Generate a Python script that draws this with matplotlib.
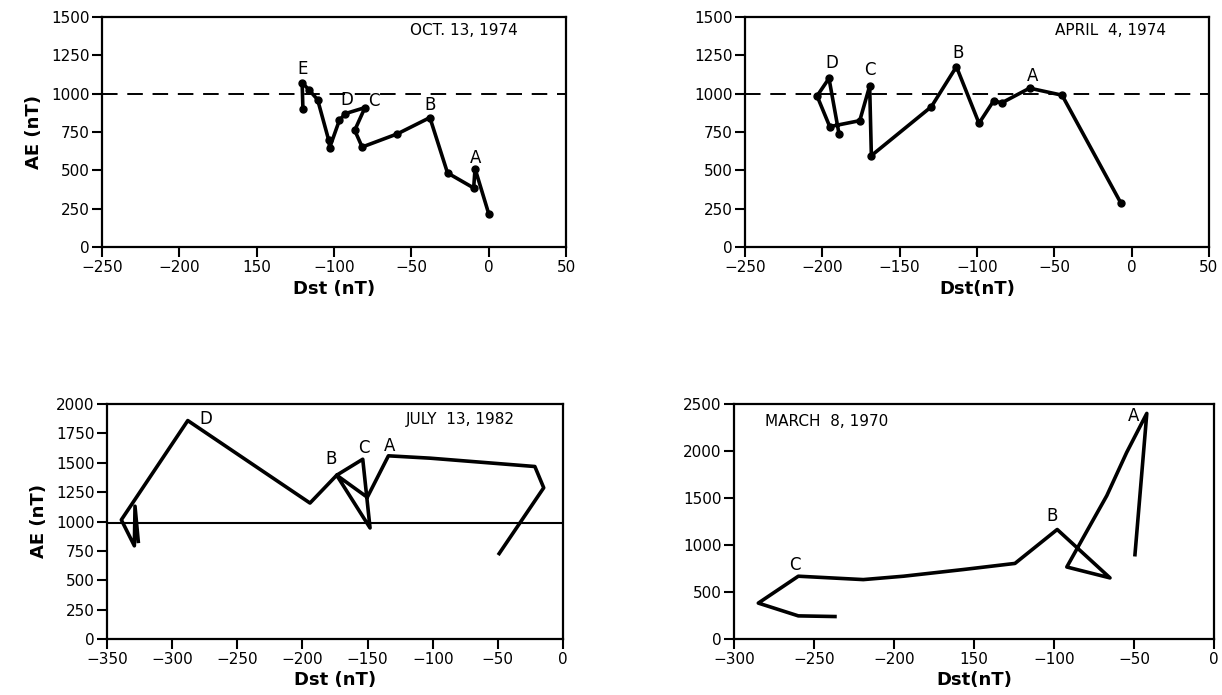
import matplotlib
matplotlib.use("Agg")
import matplotlib.pyplot as plt

# Oct 13, 1974
oct_dst = [0, -8.8, -9.7, -26.6, -38, -59, -81.8, -86.6, -80, -92.6, -96.5, -102.8, -103.4, -110.6, -116.4, -120.6, -120.1]
oct_ae = [218, 511, 385, 483, 844, 738, 652, 761, 909, 870, 827, 648, 696, 961, 1027, 1072, 903]
oct_lbl = ["A", "B", "C", "D", "E"]
oct_lbl_x = [-8.6, -38, -74, -91.5, -120.6]
oct_lbl_y = [583, 925, 952, 961, 1164]

# April 4, 1974
apr_dst = [-7, -45, -66, -84, -89.2, -98.7, -113.3, -129.5, -168.3, -169.4, -175.8, -195.2, -203.4, -195.7, -189.2]
apr_ae = [287, 990, 1036, 940, 954, 807, 1176, 915, 596, 1050, 824, 785, 985, 1100, 737]
apr_lbl = ["A", "B", "C", "D"]
apr_lbl_x = [-64, -112, -169, -194]
apr_lbl_y = [1116, 1263, 1155, 1202]

# July 13, 1982
jul_dst = [-49, -14.8, -21.6, -102, -134, -150.2, -173.7, -148.1, -153.7, -173.7, -194.2, -288, -339, -329, -328.5, -326]
jul_ae = [727, 1287, 1468, 1539, 1559, 1206, 1394, 945, 1530, 1394, 1157, 1859, 1014, 793, 1130, 831]
jul_lbl = ["A", "B", "C", "D"]
jul_lbl_x = [-133.3, -178.3, -152.7, -274]
jul_lbl_y = [1641, 1533, 1626, 1873]

# March 8, 1970
mar_dst = [-49.4, -42, -54.6, -67, -77.5, -92, -65, -98, -124.4, -156.7, -194, -219.2, -259.8, -284.8, -259.8, -236.9]
mar_ae = [897, 2400, 1984, 1525, 1207, 766, 650, 1165, 804, 739, 668, 632, 668, 382, 246, 239]
mar_lbl = ["A", "B", "C"]
mar_lbl_x = [-50.4, -101.4, -262]
mar_lbl_y = [2373, 1306, 785]

x_top = [-250, -200, -150, -100, -50, 0, 50]
x_top_lbl_oct = ["\u2212250", "\u2212200", "150", "\u2212100", "\u221250", "0", "50"]
x_top_lbl_apr = ["\u2212250", "\u2212200", "\u2212150", "\u2212100", "\u221250", "0", "50"]
y_top = [0, 250, 500, 750, 1000, 1250, 1500]
x_jul = [-350, -300, -250, -200, -150, -100, -50, 0]
x_jul_lbl = ["\u2212350", "\u2212300", "\u2212250", "\u2212200", "\u2212150", "\u2212100", "\u221250", "0"]
y_jul = [0, 250, 500, 750, 1000, 1250, 1500, 1750, 2000]
x_mar = [-300, -250, -200, -150, -100, -50, 0]
x_mar_lbl = ["\u2212300", "\u2212250", "\u2212200", "150", "\u2212100", "\u221250", "0"]
y_mar = [0, 500, 1000, 1500, 2000, 2500]

W, H = 1222, 695
fig = plt.figure(figsize=(W / 100, H / 100), dpi=100)


def make_axes(l, r, t, b):
    return fig.add_axes([l / W, 1 - b / H, (r - l) / W, (b - t) / H])


def style(ax, xt, xl, yt, xlim, ylim):
    ax.set_xlim(xlim)
    ax.set_ylim(ylim)
    ax.set_xticks(xt)
    ax.set_xticklabels(xl)
    ax.set_yticks(yt)
    ax.set_yticklabels([str(v) for v in yt])
    ax.tick_params(direction="out", length=7, width=1.5, pad=2, labelsize=11)
    for s in ax.spines.values():
        s.set_linewidth(1.6)


lw = 2.6
dash = (0, (8, 5))

ax1 = make_axes(102, 566, 17, 247)
ax1.axhline(1000, color="black", lw=1.4, ls=dash)
ax1.plot(oct_dst, oct_ae, color="black", lw=lw, marker="o", ms=5)
for s, x, y in zip(oct_lbl, oct_lbl_x, oct_lbl_y):
    ax1.text(x, y, s, ha="center", va="center", fontsize=12)
style(ax1, x_top, x_top_lbl_oct, y_top, (-250, 50), (0, 1500))
ax1.text(0.78, 0.94, "OCT. 13, 1974", transform=ax1.transAxes, ha="center", va="center", fontsize=11)
ax1.set_ylabel("AE (nT)", fontsize=13, fontweight="bold", labelpad=6)
ax1.set_xlabel("Dst (nT)", fontsize=13, fontweight="bold", labelpad=4)

ax2 = make_axes(745, 1209, 17, 247)
ax2.axhline(1000, color="black", lw=1.4, ls=dash)
ax2.plot(apr_dst, apr_ae, color="black", lw=lw, marker="o", ms=5)
for s, x, y in zip(apr_lbl, apr_lbl_x, apr_lbl_y):
    ax2.text(x, y, s, ha="center", va="center", fontsize=12)
style(ax2, x_top, x_top_lbl_apr, y_top, (-250, 50), (0, 1500))
ax2.text(0.787, 0.94, "APRIL  4, 1974", transform=ax2.transAxes, ha="center", va="center", fontsize=11)
ax2.set_xlabel("Dst(nT)", fontsize=13, fontweight="bold", labelpad=4)

ax3 = make_axes(107, 563, 404, 639)
ax3.axhline(990, color="black", lw=1.5)
ax3.plot(jul_dst, jul_ae, color="black", lw=lw)
for s, x, y in zip(jul_lbl, jul_lbl_x, jul_lbl_y):
    ax3.text(x, y, s, ha="center", va="center", fontsize=12)
style(ax3, x_jul, x_jul_lbl, y_jul, (-350, 0), (0, 2000))
ax3.text(0.774, 0.936, "JULY  13, 1982", transform=ax3.transAxes, ha="center", va="center", fontsize=11)
ax3.set_ylabel("AE (nT)", fontsize=13, fontweight="bold", labelpad=6)
ax3.set_xlabel("Dst (nT)", fontsize=13, fontweight="bold", labelpad=3)

ax4 = make_axes(734, 1214, 404, 639)
ax4.plot(mar_dst, mar_ae, color="black", lw=lw)
for s, x, y in zip(mar_lbl, mar_lbl_x, mar_lbl_y):
    ax4.text(x, y, s, ha="center", va="center", fontsize=12)
style(ax4, x_mar, x_mar_lbl, y_mar, (-300, 0), (0, 2500))
ax4.text(0.192, 0.927, "MARCH  8, 1970", transform=ax4.transAxes, ha="center", va="center", fontsize=11)
ax4.set_xlabel("Dst(nT)", fontsize=13, fontweight="bold", labelpad=3)

fig.savefig("out.png", dpi=100)
